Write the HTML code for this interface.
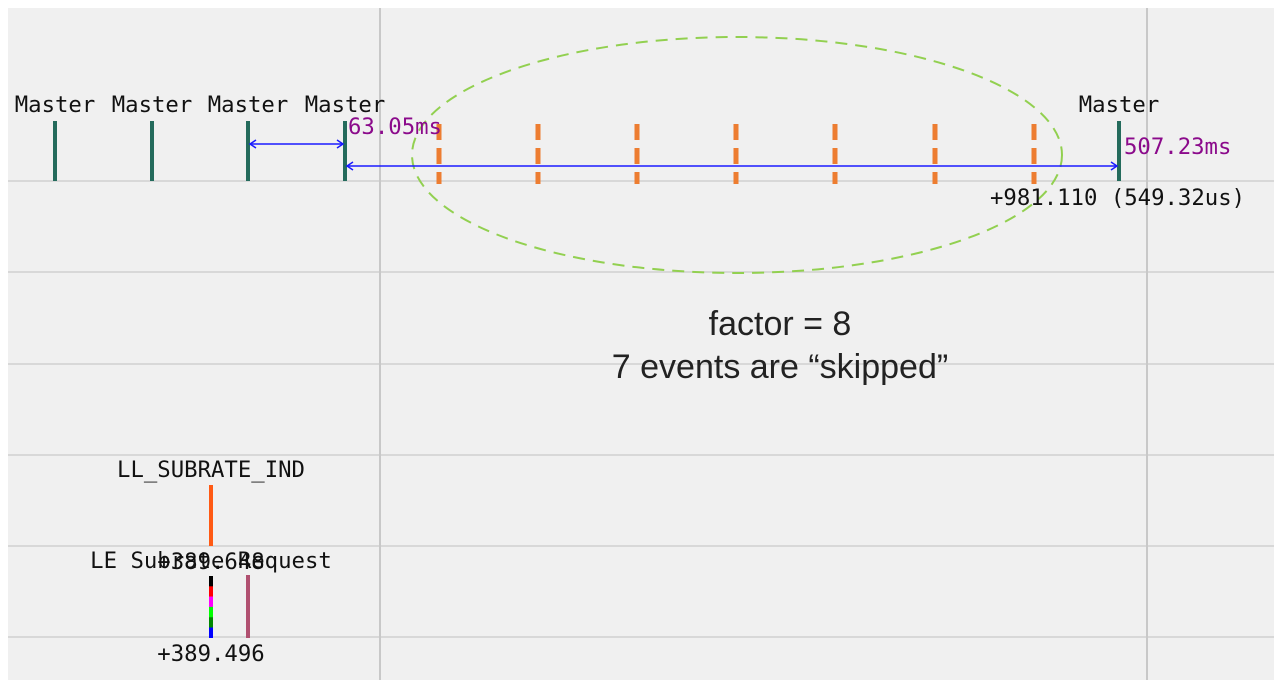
<!DOCTYPE html>
<html><head><meta charset="utf-8"><style>
html,body{margin:0;padding:0;background:#fff;width:1284px;height:688px;overflow:hidden}
svg{display:block}
.m{font-family:"DejaVu Sans Mono","Liberation Mono",monospace;font-size:22.3px}
</style></head><body>
<svg id="c" width="1284" height="688">
<rect x="8" y="8" width="1266" height="672" fill="#f0f0f0"/>
<g id="grid"></g>
<ellipse cx="737" cy="155" rx="325" ry="118" fill="none" stroke="#92d050" stroke-width="2" stroke-dasharray="12,8"/>
<g id="marks"></g>
<text x="780" y="335" text-anchor="middle" font-family="Liberation Sans,sans-serif" font-size="34" fill="#222">factor = 8</text>
<text x="780" y="378" text-anchor="middle" font-family="Liberation Sans,sans-serif" font-size="34" fill="#222">7 events are “skipped”</text>
</svg>
<script>
const rowLines=[181,272,364,455,546,637];
const colLines=[380,1147];
const masterX=[55,152,248,345,1119];
const skippedX=[439,538,637,736,835,935,1034];
const ns="http://www.w3.org/2000/svg";
function mk(p,t,a,txt){const e=document.createElementNS(ns,t);for(const k in a)e.setAttribute(k,a[k]);if(txt)e.textContent=txt;p.appendChild(e);return e;}
const g=document.getElementById('grid'),m=document.getElementById('marks');
rowLines.forEach(y=>{const e=mk(g,'line',{x1:8,x2:1274,y1:y,y2:y,stroke:'#cfcfcf','stroke-width':1.5});

});
colLines.forEach(x=>{const e=mk(g,'line',{x1:x,x2:x,y1:8,y2:680,stroke:'#c8c8c8','stroke-width':2});

});
masterX.forEach(x=>{const e=mk(m,'line',{x1:x,x2:x,y1:121,y2:181,stroke:'#246b5c','stroke-width':4});


const t=mk(m,'text',{x:x,y:112,'text-anchor':'middle',class:'m',fill:'#111'},'Master');

});
skippedX.forEach(x=>{const e=mk(m,'line',{x1:x,x2:x,y1:124,y2:184,stroke:'#ed7d31','stroke-width':5,'stroke-dasharray':'16,8'});

});
function arrow(x1,x2,y,name){const e=mk(m,'line',{x1:x1+2,x2:x2-2,y1:y,y2:y,stroke:'#1a1aff','stroke-width':1.5});


mk(m,'path',{d:`M${x1+8},${y-4}L${x1+2},${y}L${x1+8},${y+4}M${x2-8},${y-4}L${x2-2},${y}L${x2-8},${y+4}`,stroke:'#1a1aff',fill:'none','stroke-width':1.5});}
arrow(masterX[2],masterX[3],144,'interval-arrow-short');
arrow(masterX[3],masterX[4],166,'interval-arrow-long');
let t=mk(m,'text',{x:348,y:134,class:'m',fill:'#8b0a8b'},'63.05ms');


t=mk(m,'text',{x:1124,y:154,class:'m',fill:'#8b0a8b'},'507.23ms');


t=mk(m,'text',{x:990,y:205,class:'m',fill:'#111'},'+981.110 (549.32us)');


t=mk(m,'text',{x:211,y:477,'text-anchor':'middle',class:'m',fill:'#111'},'LL_SUBRATE_IND');


let e=mk(m,'line',{x1:211,x2:211,y1:485,y2:546,stroke:'#ff5a14','stroke-width':4});


t=mk(m,'text',{x:211,y:568,'text-anchor':'middle',class:'m',fill:'#111'},'LE Subrate Request');


t=mk(m,'text',{x:211,y:569,'text-anchor':'middle',class:'m',fill:'#111'},'+389.648');


const segCols=['#000','#f00','#f0f','#0f0','#080','#00f'];
segCols.forEach((c,i)=>{const s=mk(m,'rect',{x:209,y:576+i*10.3,width:4,height:10.5,fill:c});

});
e=mk(m,'line',{x1:248,x2:248,y1:575,y2:638,stroke:'#b05070','stroke-width':4});


t=mk(m,'text',{x:211,y:661,'text-anchor':'middle',class:'m',fill:'#111'},'+389.496');


</script>
</body></html>
